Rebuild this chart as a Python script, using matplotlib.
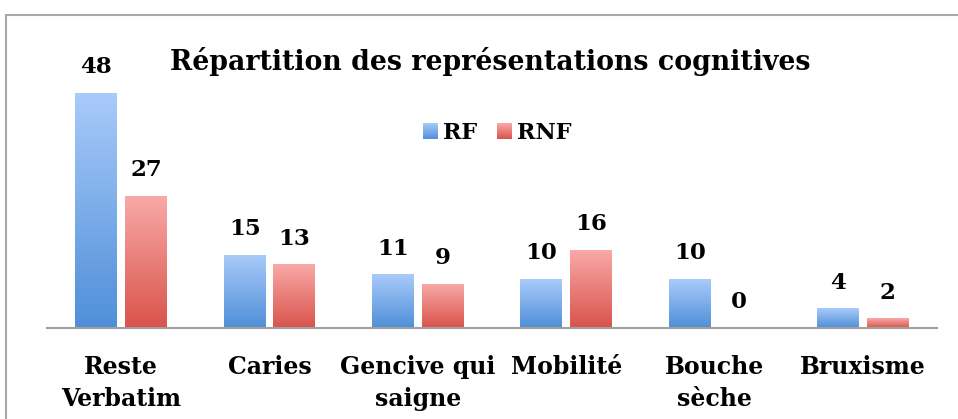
import matplotlib
matplotlib.use("Agg")
import matplotlib.pyplot as plt
import numpy as np
from matplotlib.patches import Rectangle
from matplotlib.colors import LinearSegmentedColormap

categories = ["Reste\nVerbatim", "Caries", "Gencive qui\nsaigne", "Mobilité", "Bouche\nsèche", "Bruxisme"]
rf = [48, 15, 11, 10, 10, 4]
rnf = [27, 13, 9, 16, 0, 2]
series_names = ["RF", "RNF"]
title = "Répartition des représentations cognitives"

W, H = 958, 419
fig = plt.figure(figsize=(W/100, H/100), dpi=100)
FONT = "DejaVu Serif"

ax = fig.add_axes([47/W, 1-328/H, (937-47)/W, (328-34)/H])
ax.set_xlim(-0.5, len(categories)-0.5)
ax.set_ylim(0, 60)

blue_cmap = LinearSegmentedColormap.from_list("b", ["#4f8fd8", "#a9cbfa"])
red_cmap = LinearSegmentedColormap.from_list("r", ["#d9534b", "#f9aaa8"])
grad = np.linspace(0, 1, 256).reshape(-1, 1)

x = np.arange(len(categories))
width = 0.283
off = 0.167

def gbar(xs, vals, cmap):
    bars = ax.bar(xs, vals, width, color="none", edgecolor="none")
    for b, v in zip(bars, vals):
        if v <= 0:
            continue
        x0 = b.get_x()
        im = ax.imshow(grad, extent=[x0, x0+width, 0, v], origin="lower",
                       cmap=cmap, aspect="auto", zorder=2, interpolation="bilinear")
        im.set_clip_path(b)
    return bars

gbar(x - off, rf, blue_cmap)
gbar(x + off, rnf, red_cmap)
ax.set_xlim(-0.5, len(categories)-0.5)
ax.set_ylim(0, 60)

for xs, vals in [(x - off, rf), (x + off, rnf)]:
    for xi, v in zip(xs, vals):
        ax.annotate(str(v), (xi, v), xytext=(0, 10.5), textcoords="offset points",
                    ha="center", va="bottom", fontsize=16.5, fontweight="bold", family=FONT)

for s in ["top", "right", "left"]:
    ax.spines[s].set_visible(False)
ax.spines["bottom"].set_color("#a0a0a0")
ax.spines["bottom"].set_linewidth(1.5)
ax.set_yticks([])
ax.set_xticks(x)
ax.set_xticklabels(categories, fontsize=17, fontweight="bold", family=FONT, linespacing=1.4)
ax.tick_params(axis="x", length=0, pad=19.5)

fig.text(490/W, 1-62/H, title, ha="center", va="center", fontsize=19.3,
         fontweight="bold", family=FONT)

# legend
for bx, name, cmap in [(423, series_names[0], blue_cmap), (497, series_names[1], red_cmap)]:
    lax = fig.add_axes([bx/W, 1-139/H, 15/W, 16/H])
    lax.imshow(grad, origin="lower", cmap=cmap, aspect="auto", extent=[0, 1, 0, 1])
    lax.axis("off")
    fig.text((bx+20)/W, 1-133/H, name, ha="left", va="center", fontsize=16,
             fontweight="bold", family=FONT)

# outer frame
fig.patches.append(Rectangle((6/W, -0.1), 1.2, 1-15/H+0.1, transform=fig.transFigure,
                             fill=False, edgecolor="#a8a8a8", linewidth=1.5))

fig.savefig("out.png", dpi=100)
